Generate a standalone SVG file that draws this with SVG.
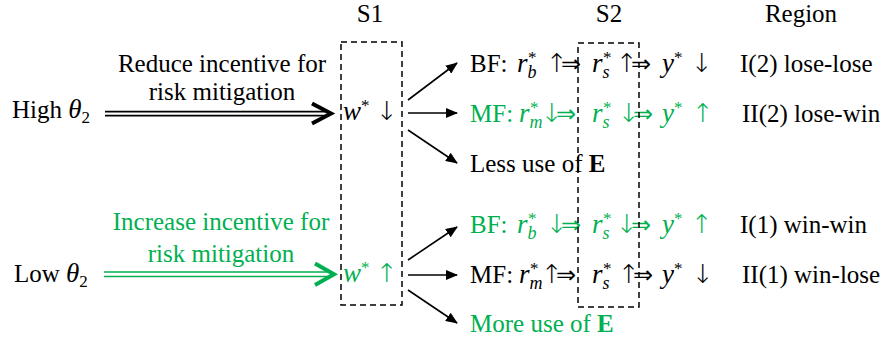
<svg xmlns="http://www.w3.org/2000/svg" width="884" height="345" viewBox="0 0 884 345">
<defs>
<style>
text{font-family:"Liberation Serif","DejaVu Serif",serif;font-size:25px;fill:#000}
.g{fill:#00B050}
.it{font-style:italic;font-size:27px}
.sm{font-size:17px}
.si{font-size:18px;font-style:italic}
.b{font-weight:bold}
.ar{font-family:"DejaVu Sans",sans-serif;font-size:26px;font-weight:200}
.im{font-family:"DejaVu Sans",sans-serif;font-size:24px;font-weight:200}
.box{fill:none;stroke:#000;stroke-width:1.5;stroke-dasharray:6 4}
.ln{stroke:#000;stroke-width:1.6;fill:none}
.dbl{stroke-width:1.6;fill:none}
</style>
<marker id="ah" markerWidth="12" markerHeight="10" refX="11" refY="5" orient="auto" markerUnits="userSpaceOnUse">
<path d="M0,0 L12,5 L0,10 Z" fill="#000"/>
</marker>
</defs>
<rect width="884" height="345" fill="#fff"/>

<g id="headers">
<text x="370" y="22" text-anchor="middle">S1</text>
<text x="609" y="22" text-anchor="middle">S2</text>
<text x="801" y="22" text-anchor="middle">Region</text>
</g>

<g id="high">
<text x="12" y="118">High <tspan class="it">θ</tspan><tspan class="sm" dy="5">2</tspan></text>
</g>
<g id="low">
<text x="14" y="282">Low <tspan class="it">θ</tspan><tspan class="sm" dy="5">2</tspan></text>
</g>

<g id="connectors">
<g stroke="#000">
<line class="dbl" x1="105" y1="111.6" x2="328" y2="111.6"/>
<line class="dbl" x1="105" y1="115.6" x2="328" y2="115.6"/>
<path d="M312,103.5 L331,113.6 L312,123.5" fill="none" stroke-width="4"/>
</g>
<g stroke="#00B050">
<line class="dbl" x1="104" y1="272" x2="330" y2="272"/>
<line class="dbl" x1="104" y1="276.5" x2="330" y2="276.5"/>
<path d="M315,263.5 L334,274.2 L315,285" fill="none" stroke-width="4"/>
</g>
<line class="ln" x1="408" y1="100" x2="457" y2="63" marker-end="url(#ah)"/>
<line class="ln" x1="408" y1="113" x2="457" y2="113" marker-end="url(#ah)"/>
<line class="ln" x1="408" y1="130" x2="457" y2="163" marker-end="url(#ah)"/>
<line class="ln" x1="408" y1="260" x2="457" y2="227" marker-end="url(#ah)"/>
<line class="ln" x1="408" y1="275" x2="457" y2="275" marker-end="url(#ah)"/>
<line class="ln" x1="408" y1="290" x2="457" y2="323" marker-end="url(#ah)"/>
</g>

<g id="label-reduce">
<text x="222" y="72" text-anchor="middle">Reduce incentive for</text>
<text x="222" y="100" text-anchor="middle">risk mitigation</text>
</g>
<g id="label-increase">
<text class="g" x="221" y="230" text-anchor="middle">Increase incentive for</text>
<text class="g" x="221" y="262" text-anchor="middle">risk mitigation</text>
</g>

<g id="s1-high">
<text x="343" y="120"><tspan class="it">w</tspan><tspan class="sm" dy="-9">*</tspan><tspan class="ar" x="376" dy="9">↓</tspan></text>
</g>
<g id="s1-low">
<text class="g" x="343" y="282"><tspan class="it">w</tspan><tspan class="sm" dy="-9">*</tspan><tspan class="ar" x="376" dy="9">↑</tspan></text>
</g>

<g id="bf-top">
<text x="470" y="72">BF: <tspan class="it" x="517">r</tspan><tspan class="si" dy="6">b</tspan><tspan class="sm" x="528" dy="-15">*</tspan><tspan class="ar" x="546" dy="9">↑</tspan><tspan class="im" x="561">⇒</tspan><tspan class="it" x="592">r</tspan><tspan class="si" dy="6">s</tspan><tspan class="sm" x="603" dy="-15">*</tspan><tspan class="ar" x="616" dy="9">↑</tspan><tspan class="im" x="631">⇒</tspan><tspan class="it" x="662">y</tspan><tspan class="sm" dy="-9">*</tspan><tspan class="ar" x="691" dy="9">↓</tspan></text>
</g>
<g id="mf-top">
<text class="g" x="470" y="122">MF: <tspan class="it" x="519">r</tspan><tspan class="si" dy="6">m</tspan><tspan class="sm" x="530" dy="-15">*</tspan><tspan class="ar" x="541" dy="9">↓</tspan><tspan class="im" x="556">⇒</tspan><tspan class="it" x="592">r</tspan><tspan class="si" dy="6">s</tspan><tspan class="sm" x="603" dy="-15">*</tspan><tspan class="ar" x="618" dy="9">↓</tspan><tspan class="im" x="633">⇒</tspan><tspan class="it" x="662">y</tspan><tspan class="sm" dy="-9">*</tspan><tspan class="ar" x="692" dy="9">↑</tspan></text>
</g>
<g id="less-e">
<text x="470" y="172">Less use of <tspan class="b">E</tspan></text>
</g>
<g id="bf-bot">
<text class="g" x="470" y="233">BF: <tspan class="it" x="517">r</tspan><tspan class="si" dy="6">b</tspan><tspan class="sm" x="528" dy="-15">*</tspan><tspan class="ar" x="546" dy="9">↓</tspan><tspan class="im" x="561">⇒</tspan><tspan class="it" x="592">r</tspan><tspan class="si" dy="6">s</tspan><tspan class="sm" x="603" dy="-15">*</tspan><tspan class="ar" x="616" dy="9">↓</tspan><tspan class="im" x="631">⇒</tspan><tspan class="it" x="662">y</tspan><tspan class="sm" dy="-9">*</tspan><tspan class="ar" x="691" dy="9">↑</tspan></text>
</g>
<g id="mf-bot">
<text x="470" y="283">MF: <tspan class="it" x="519">r</tspan><tspan class="si" dy="6">m</tspan><tspan class="sm" x="530" dy="-15">*</tspan><tspan class="ar" x="541" dy="9">↑</tspan><tspan class="im" x="556">⇒</tspan><tspan class="it" x="592">r</tspan><tspan class="si" dy="6">s</tspan><tspan class="sm" x="603" dy="-15">*</tspan><tspan class="ar" x="618" dy="9">↑</tspan><tspan class="im" x="633">⇒</tspan><tspan class="it" x="662">y</tspan><tspan class="sm" dy="-9">*</tspan><tspan class="ar" x="692" dy="9">↓</tspan></text>
</g>
<g id="more-e">
<text class="g" x="470" y="332">More use of <tspan class="b">E</tspan></text>
</g>

<g id="regions">
<text x="740" y="72">I(2) lose-lose</text>
<text x="742" y="122">II(2) lose-win</text>
<text x="740" y="233">I(1) win-win</text>
<text x="742" y="283">II(1) win-lose</text>
</g>

<g id="boxes">
<rect class="box" x="341" y="42" width="61" height="263"/>
<rect class="box" x="578" y="43" width="61" height="264"/>
</g>
</svg>
